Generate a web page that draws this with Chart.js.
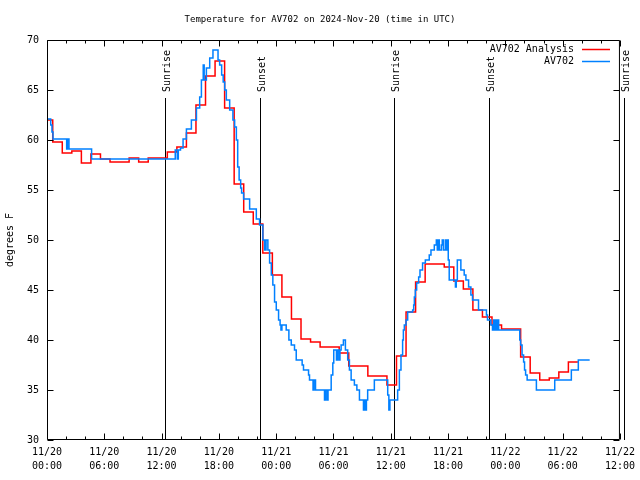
<!DOCTYPE html>
<html><head><meta charset="utf-8">
<script src="https://cdn.jsdelivr.net/npm/chart.js@4/dist/chart.umd.min.js"></script>
<style>html,body{margin:0;padding:0;background:#fff}</style>
</head><body>
<canvas id="c" width="640" height="480"></canvas>
<script>
const titleText = 'Temperature for AV702 on 2024-Nov-20 (time in UTC)';
const yAxisLabel = 'degrees F';
const seriesNames = ['AV702 Analysis', 'AV702'];
const seriesColors = ['#ff0000', '#0080ff'];
const startMonth = 11, startDay = 20;

// hours since 11/20 00:00 UTC
const analysisHours = [0, 0.6, 1.6, 2.6, 3.6, 4.6, 5.6, 6.6, 7.6, 8.6, 9.6, 10.6, 11.6, 12.6, 13.6, 14.6, 15.6, 16.6, 17.6, 18.6, 19.6,
  20.6, 21.6, 22.6, 23.6, 24.6, 25.6, 26.6, 27.6, 28.6, 29.6, 30.6, 31.6, 32.6, 33.6, 34.6, 35.6, 36.6, 37.6, 38.6, 39.6,
  40.6, 41.6, 42.6, 43.6, 44.6, 45.6, 46.6, 47.6, 48.6, 49.6, 50.6, 51.6, 52.6, 53.6, 54.6, 55.6];
const analysisTemps = [62.0, 59.8, 58.7, 58.9, 57.7, 58.6, 58.1, 57.8, 57.8, 58.2, 57.8, 58.2, 58.2, 58.8, 59.3, 60.7, 63.5, 66.4, 67.9, 63.2, 55.6,
  52.8, 51.6, 48.7, 46.5, 44.3, 42.1, 40.1, 39.8, 39.3, 39.3, 38.7, 37.4, 37.4, 36.4, 36.4, 35.5, 38.4, 42.8, 45.8, 47.6,
  47.6, 47.3, 45.9, 45.1, 43.0, 42.3, 41.5, 41.1, 41.1, 38.3, 36.7, 36.0, 36.2, 36.8, 37.8, 37.8];

const obsHours = [0.00, 0.39, 0.52, 0.63, 2.06, 2.14, 2.30, 4.67, 13.43, 13.64, 13.75, 13.98, 14.25, 14.60, 15.12, 15.65, 15.99, 16.17, 16.36, 16.46,
  16.69, 17.04, 17.38, 17.91, 18.08, 18.29, 18.45, 18.61, 18.78, 19.13, 19.47, 19.65, 19.83, 19.97, 20.12, 20.28, 20.38, 20.59, 21.22, 21.92,
  22.26, 22.61, 22.79, 22.94, 23.13, 23.31, 23.49, 23.65, 23.83, 24.01, 24.25, 24.41, 24.50, 24.60, 25.05, 25.33, 25.58, 25.92, 26.10, 26.72,
  26.86, 27.39, 27.49, 27.86, 27.96, 28.12, 29.06, 29.16, 29.32, 29.43, 29.76, 29.93, 30.03, 30.31, 30.41, 30.57, 30.68, 30.80, 31.04, 31.25,
  31.49, 31.67, 31.85, 32.19, 32.45, 32.54, 32.72, 33.14, 33.24, 33.34, 33.45, 33.58, 34.28, 35.68, 35.80, 35.91, 36.72, 36.90, 37.07, 37.24,
  37.32, 37.42, 37.60, 37.77, 38.29, 38.40, 38.47, 38.57, 38.71, 38.92, 39.06, 39.33, 39.62, 40.03, 40.21, 40.56, 40.77, 40.87, 40.98, 41.08,
  41.29, 41.39, 41.50, 41.71, 41.81, 41.92, 42.02, 42.12, 42.77, 42.86, 42.97, 43.34, 43.69, 43.87, 44.15, 44.39, 44.56, 45.19, 46.02, 46.13,
  46.48, 46.65, 46.78, 46.88, 46.98, 47.09, 47.19, 47.30, 49.51, 49.60, 49.75, 49.91, 50.01, 50.12, 50.28, 51.25, 53.17, 54.91, 55.64, 56.83];
const obsTemps = [62.1, 61.5, 60.8, 60.1, 59.1, 60.1, 59.1, 58.1, 59.0, 58.1, 59.0, 59.2, 60.1, 61.1, 62.0, 63.2, 64.3, 66.0, 67.5, 66.0,
  67.2, 68.2, 69.0, 68.0, 67.5, 66.5, 65.8, 65.0, 64.0, 63.0, 62.0, 61.3, 60.0, 57.3, 56.0, 55.2, 54.7, 54.1, 53.1, 52.1,
  51.5, 50.0, 49.0, 50.0, 49.0, 47.7, 46.5, 45.5, 43.8, 43.0, 42.0, 41.5, 41.0, 41.5, 41.0, 40.0, 39.5, 39.0, 38.0, 37.5,
  37.0, 36.5, 36.0, 35.0, 36.0, 35.0, 34.0, 35.0, 34.0, 35.0, 36.5, 37.7, 39.0, 38.0, 39.0, 38.0, 39.0, 39.5, 40.0, 39.0,
  38.0, 37.0, 36.0, 35.5, 35.0, 35.0, 34.0, 33.0, 34.0, 33.0, 34.0, 35.0, 36.0, 34.5, 33.0, 34.0, 35.0, 37.0, 38.5, 40.0,
  41.0, 41.5, 42.0, 42.8, 43.0, 43.5, 44.3, 45.0, 45.7, 46.3, 47.0, 47.7, 48.0, 48.5, 49.0, 49.5, 50.0, 49.0, 50.0, 49.0,
  49.5, 50.0, 49.0, 50.0, 49.0, 50.0, 48.0, 46.0, 45.3, 46.0, 48.0, 47.0, 46.5, 46.0, 45.3, 44.5, 44.0, 43.0, 42.5, 42.0,
  41.5, 41.0, 42.0, 41.0, 42.0, 41.0, 42.0, 41.0, 40.0, 39.5, 38.5, 37.8, 37.0, 36.5, 36.0, 35.0, 36.0, 37.0, 38.0, 38.0];

const sunEventNames = ['Sunrise', 'Sunset', 'Sunrise', 'Sunset', 'Sunrise'];
const sunEventHours = [12.33, 22.26, 36.37, 46.31, 60.42];

const FONT = 'DejaVu Sans Mono';

function pts(xs, ys) { return xs.map((x, i) => ({ x: x, y: ys[i] })); }

const framePlugin = {
  id: 'framePlugin',
  beforeDatasetsDraw(chart) {
    const ctx = chart.ctx, xs = chart.scales.x, a = chart.chartArea;
    ctx.save();
    ctx.strokeStyle = '#000'; ctx.lineWidth = 1;
    ctx.fillStyle = '#000';
    ctx.font = '10px "' + FONT + '"';
    sunEventHours.forEach((h, i) => {
      const px = Math.round(xs.getPixelForValue(h)) + 0.5;
      ctx.beginPath(); ctx.moveTo(px, 98); ctx.lineTo(px, a.bottom); ctx.stroke();
      ctx.save();
      ctx.translate(px + 1.5, 92);
      ctx.rotate(-Math.PI / 2);
      ctx.textAlign = 'left'; ctx.textBaseline = 'middle';
      ctx.fillText(sunEventNames[i], 0, 0);
      ctx.restore();
    });
    ctx.restore();
  },
  afterDraw(chart) {
    const ctx = chart.ctx, xs = chart.scales.x, ys = chart.scales.y, a = chart.chartArea;
    ctx.save();
    ctx.strokeStyle = '#000'; ctx.lineWidth = 1;
    const L = a.left + 0.5, R = a.right - 0.5, T = a.top + 0.5, B = a.bottom - 0.5;
    ctx.beginPath(); ctx.rect(L, T, R - L, B - T); ctx.stroke();
    ctx.beginPath();
    for (let v = ys.min; v <= ys.max; v += 5) {
      const py = Math.round(ys.getPixelForValue(v)) + 0.5;
      ctx.moveTo(L, py); ctx.lineTo(L + 6, py);
      ctx.moveTo(R, py); ctx.lineTo(R - 6, py);
    }
    for (let h = xs.min; h <= xs.max; h += 2) {
      const px = Math.round(xs.getPixelForValue(h)) + 0.5;
      const len = (h % 6 === 0) ? 6 : 3;
      ctx.moveTo(px, B); ctx.lineTo(px, B - len);
      ctx.moveTo(px, T); ctx.lineTo(px, T + len);
    }
    ctx.stroke();
    // legend
    ctx.font = '10px "' + FONT + '"';
    ctx.fillStyle = '#000';
    ctx.textAlign = 'right'; ctx.textBaseline = 'middle';
    seriesNames.forEach((n, i) => {
      const y = 49 + i * 12;
      ctx.fillText(n, 574, y);
      ctx.strokeStyle = seriesColors[i]; ctx.lineWidth = 1.5;
      ctx.beginPath(); ctx.moveTo(582, y + 0.5); ctx.lineTo(610, y + 0.5); ctx.stroke();
    });
    ctx.restore();
  }
};

new Chart(document.getElementById('c'), {
  type: 'line',
  data: {
    datasets: [
      { label: seriesNames[0], data: pts(analysisHours, analysisTemps), borderColor: seriesColors[0], borderWidth: 1.5,
        stepped: true, pointRadius: 0, fill: false, order: 2 },
      { label: seriesNames[1], data: pts(obsHours, obsTemps), borderColor: seriesColors[1], borderWidth: 1.5,
        stepped: true, pointRadius: 0, fill: false, order: 1 }
    ]
  },
  options: {
    responsive: false, animation: false, devicePixelRatio: 1,
    layout: { padding: 0 },
    plugins: {
      legend: { display: false },
      tooltip: { enabled: false },
      title: { display: true, text: titleText, color: '#000',
        font: { family: FONT, size: 9, weight: 'normal', lineHeight: 1.2 },
        padding: { top: 14, bottom: 15.2 } }
    },
    scales: {
      x: {
        type: 'linear', min: 0, max: 60,
        grid: { display: false, drawTicks: false }, border: { display: false },
        ticks: { stepSize: 6, autoSkip: false, maxRotation: 0, color: '#000', padding: 5,
          font: { family: FONT, size: 10, lineHeight: 1.4 },
          callback: (v) => {
            const d = startDay + Math.floor(v / 24);
            const hh = v % 24;
            return [startMonth + '/' + d, String(hh).padStart(2, '0') + ':00'];
          } },
        afterFit: (s) => { s.height = 40; }
      },
      y: {
        min: 30, max: 70,
        grid: { display: false, drawTicks: false }, border: { display: false },
        ticks: { stepSize: 5, color: '#000', padding: 8, font: { family: FONT, size: 10 } },
        title: { display: true, text: yAxisLabel, color: '#000', font: { family: FONT, size: 10, lineHeight: 1.2 },
          padding: { top: 4, bottom: 0 } },
        afterFit: (s) => { s.width = 47; }
      },
      yRight: {
        position: 'right', display: true, min: 30, max: 70,
        grid: { display: false, drawTicks: false }, border: { display: false },
        ticks: { display: false },
        afterFit: (s) => { s.width = 19; }
      }
    }
  },
  plugins: [framePlugin]
});
</script>
</body></html>
